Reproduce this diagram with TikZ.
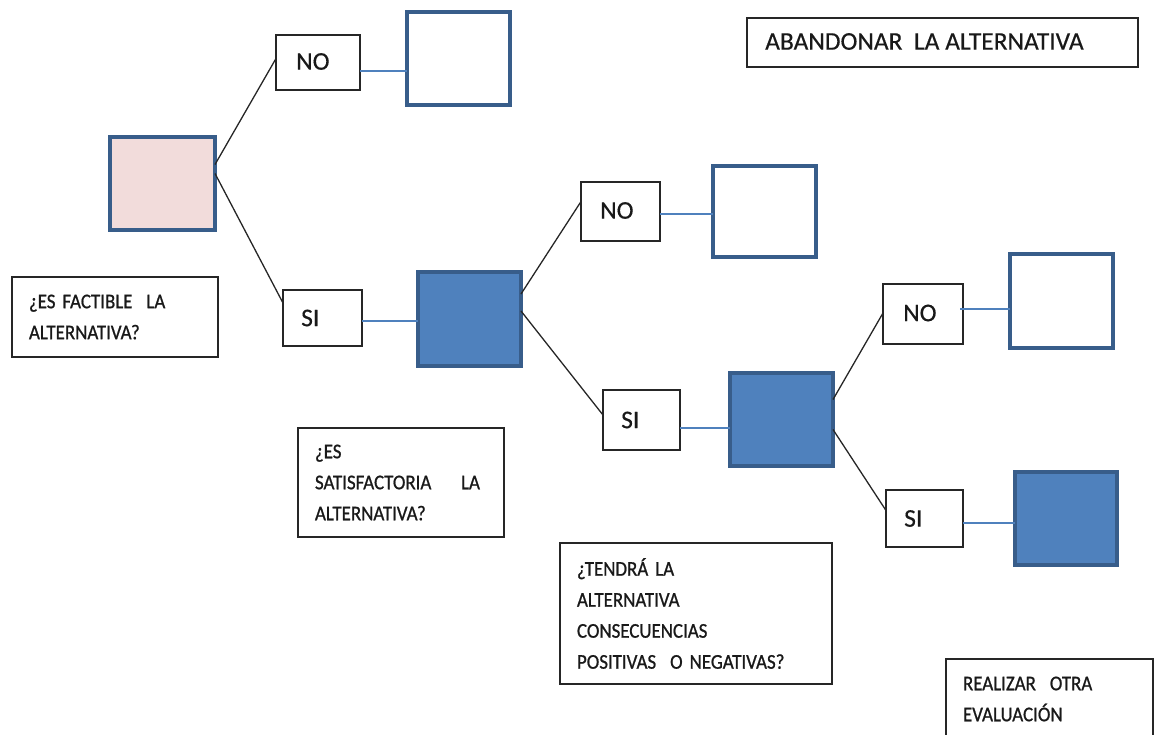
\documentclass[tikz,border=0pt]{standalone}
\usepackage{fontspec}
\setmainfont{Carlito}
\newfontfamily\qfont[FakeStretch=0.9,FakeBold=0.8]{Carlito}
\newfontfamily\lfont[FakeBold=0.4]{Carlito}
\definecolor{sqborder}{HTML}{385D8A}
\definecolor{sqblue}{HTML}{4F81BD}
\definecolor{sqpink}{HTML}{F2DCDB}
\definecolor{linkblue}{HTML}{4F81BD}
\tikzset{
  sq/.style={draw=sqborder, line width=3.5pt, inner sep=0pt, outer sep=0pt, minimum width=103pt, minimum height=93pt},
  sqempty/.style={sq, fill=white},
  sqfill/.style={sq, fill=sqblue},
  sqroot/.style={sq, fill=sqpink},
  lbl/.style={draw=black!85, line width=1.4pt, fill=white, inner sep=0pt, outer sep=0pt},
  lbltext/.style={anchor=west, font=\lfont\fontsize{25.5}{28}\selectfont, text=black!90, inner sep=0pt},
  qbox/.style={draw=black!85, line width=1.4pt, fill=white, inner xsep=17pt, inner ysep=0pt, outer sep=0pt,
     align=left, anchor=north west, font=\qfont\fontsize{21}{31}\selectfont, text=black!90},
  branch/.style={draw=black!85, line width=1.3pt},
  link/.style={draw=linkblue, line width=1.4pt},
}
\begin{document}
\begin{tikzpicture}[x=1pt,y=-1pt]
\useasboundingbox (0,0) rectangle (1155,734);
% squares
\node[sqroot, minimum width=105pt] (root) at (162.5,183.5) {};
\node[sqempty] (e1) at (458.5,58.5) {};
\node[sqfill, minimum height=94pt] (b1) at (469.5,319) {};
\node[sqempty, minimum height=91pt] (e2) at (764.5,211.5) {};
\node[sqfill] (b2) at (781.5,419.5) {};
\node[sqempty, minimum height=94pt] (e3) at (1061.5,301) {};
\node[sqfill, minimum width=102pt] (b3) at (1066,518.5) {};
% labels
\node[lbl, minimum width=84pt, minimum height=55pt] (no1) at (318,62.5) {};
\node[lbltext] (no1t) at ([xshift=20pt,yshift=1pt]no1.west) {NO};
\node[lbl, minimum width=79pt, minimum height=56pt] (si1) at (322.5,318) {};
\node[lbltext] (si1t) at ([xshift=18pt]si1.west) {SI};
\node[lbl, minimum width=79pt, minimum height=59pt] (no2) at (620.5,211.5) {};
\node[lbltext] (no2t) at ([xshift=19pt,yshift=1pt]no2.west) {NO};
\node[lbl, minimum width=77pt, minimum height=60pt] (si2) at (641.5,420) {};
\node[lbltext] (si2t) at ([xshift=18pt]si2.west) {SI};
\node[lbl, minimum width=80pt, minimum height=60pt] (no3) at (923,314) {};
\node[lbltext] (no3t) at ([xshift=20pt,yshift=1pt]no3.west) {NO};
\node[lbl, minimum width=77pt, minimum height=57pt] (si3) at (924.5,518.5) {};
\node[lbltext] (si3t) at ([xshift=18pt]si3.west) {SI};
% question boxes
\node[qbox, text width=172pt, minimum height=80pt] (q1) at (12,277) {¿ES FACTIBLE\ \ LA\\ALTERNATIVA?};
\node[qbox, text width=172pt, minimum height=109pt] (q2) at (298,428) {¿ES\\\makebox[165pt][s]{SATISFACTORIA\hfill LA}\\ALTERNATIVA?};
\node[qbox, text width=238pt, minimum height=141pt] (q3) at (560,543) {¿TENDRÁ LA\\ALTERNATIVA\\CONSECUENCIAS\\POSITIVAS\ \ O NEGATIVAS?};
\node[qbox, text width=173pt, minimum height=80pt] (q4) at (946,659) {REALIZAR\ \ OTRA\\EVALUACIÓN};
\node[lbl, minimum width=391pt, minimum height=49pt] (ab) at (942.5,42.5) {};
\node[lbltext] (abt) at ([xshift=18pt,yshift=1pt]ab.west) {ABANDONAR\ \ LA ALTERNATIVA};
% branches
\draw[branch] ([yshift=19pt]root.east) -- ([yshift=4pt]no1.west);
\draw[branch] ([yshift=10pt]root.east) -- ([yshift=15pt]si1.west);
\draw[branch] ([yshift=25pt]b1.east) -- ([yshift=10pt]no2.west);
\draw[branch] ([yshift=8pt]b1.east) -- ([yshift=5pt]si2.west);
\draw[branch] ([yshift=20pt]b2.east) -- ([yshift=1pt]no3.west);
\draw[branch] ([yshift=-10pt]b2.east) -- ([yshift=8pt]si3.west);
% links
\draw[link] ([yshift=-8.5pt]no1.east) -- ([yshift=-12.5pt]e1.west);
\draw[link] ([yshift=-3pt]si1.east) -- ([yshift=-2pt]b1.west);
\draw[link] ([yshift=-2.5pt]no2.east) -- ([yshift=-2.5pt]e2.west);
\draw[link] ([yshift=-8pt]si2.east) -- ([yshift=-8.5pt]b2.west);
\draw[link] ([xshift=-3pt,yshift=5pt]no3.east) -- ([yshift=-8pt]e3.west);
\draw[link] ([yshift=-4.5pt]si3.east) -- ([yshift=-4.5pt]b3.west);
\end{tikzpicture}
\end{document}
